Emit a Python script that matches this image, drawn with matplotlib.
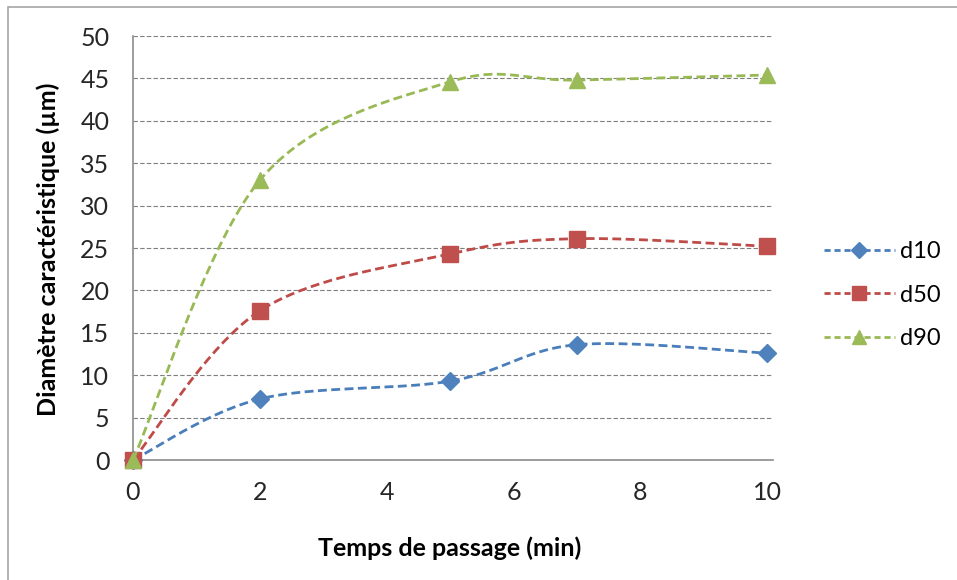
import numpy as np
import matplotlib
matplotlib.use('Agg')
import matplotlib.pyplot as plt
from matplotlib.patches import Rectangle

# Donnees
temps = [0, 2, 5, 7, 10]
d10 = [0, 7.2, 9.3, 13.6, 12.6]
d50 = [0, 17.6, 24.3, 26.1, 25.2]
d90 = [0, 33.0, 44.6, 44.8, 45.4]
noms = ['d10', 'd50', 'd90']
yticks = [0, 5, 10, 15, 20, 25, 30, 35, 40, 45, 50]
xticks = [0, 2, 4, 6, 8, 10]


def lisser(x, y, n=40):
    # courbe lissee facon Excel (Bezier / Catmull-Rom)
    p = np.column_stack([x, y]).astype(float)
    p = np.vstack([p[0], p, p[-1]])
    xs, ys = [], []
    t = np.linspace(0, 1, n)
    for i in range(1, len(p) - 2):
        p0, p3 = p[i], p[i + 1]
        c1 = p0 + (p[i + 1] - p[i - 1]) / 6
        c2 = p3 - (p[i + 2] - p[i]) / 6
        b = ((1 - t) ** 3)[:, None] * p0 + (3 * (1 - t) ** 2 * t)[:, None] * c1 \
            + (3 * (1 - t) * t ** 2)[:, None] * c2 + (t ** 3)[:, None] * p3
        xs.extend(b[:, 0])
        ys.extend(b[:, 1])
    return xs, ys


plt.rcParams['font.family'] = ['Lato', 'DejaVu Sans']

fig = plt.figure(figsize=(9.57, 5.8), dpi=100)
fig.patches.append(Rectangle((8 / 957, -0.1), 1.1, 1.1 - 7 / 580,
                             transform=fig.transFigure, fill=False,
                             edgecolor='#a6a6a6', lw=1.2))
ax = fig.add_axes([133 / 957, 1 - 460 / 580, 640 / 957, 424 / 580])

couleurs_ligne = ['#4a7ebb', '#be4b48', '#98b954']
couleurs_marq = ['#4f81bd', '#c0504d', '#9bbb59']
marqueurs = ['D', 's', '^']
tailles = [9, 11, 11]
series = [d10, d50, d90]

for k in range(3):
    xs, ys = lisser(temps, series[k])
    ax.plot(xs, ys, color=couleurs_ligne[k], lw=2.0, ls=(0, (3.2, 1.6)),
            clip_on=False, zorder=3 + k)
    ax.plot(temps, series[k], ls='none', marker=marqueurs[k], ms=tailles[k],
            color=couleurs_marq[k], mec=couleurs_marq[k], clip_on=False, zorder=3 + k)
    # poignee de legende
    ax.plot([], [], color=couleurs_ligne[k], lw=2.0, ls=(0, (2.2, 1.4)),
            marker=marqueurs[k], ms=tailles[k] - 1, mfc=couleurs_marq[k],
            mec=couleurs_marq[k], label=noms[k])

ax.set_xlim(0, 10.09)
ax.set_ylim(0, 50)
ax.set_xticks(xticks)
ax.set_yticks(yticks)
ax.tick_params(length=0, labelsize=18, colors='#262626')
ax.tick_params(axis='y', pad=17)
ax.tick_params(axis='x', pad=15)
ax.grid(axis='y', color='#7f7f7f', lw=0.8, ls=(0, (4, 2)))
ax.set_axisbelow(True)
for s in ['top', 'right']:
    ax.spines[s].set_visible(False)
for s in ['left', 'bottom']:
    ax.spines[s].set_color('#8c8c8c')
    ax.spines[s].set_linewidth(1.2)

ax.set_xlabel('Temps de passage (min)', fontsize=18, fontweight='bold')
ax.set_ylabel('Diamètre caractéristique (µm)', fontsize=18, fontweight='bold')
ax.xaxis.set_label_coords(0.495, -0.18)
ax.yaxis.set_label_coords(-0.114, 0.497)

ax.legend(loc='center left', bbox_to_anchor=(824 / 957, 1 - 295 / 580),
          bbox_transform=fig.transFigure, frameon=False, fontsize=17,
          handlelength=3.0, handletextpad=0.2, labelspacing=0.95,
          borderaxespad=0, borderpad=0)

fig.savefig('out.png', dpi=100)
